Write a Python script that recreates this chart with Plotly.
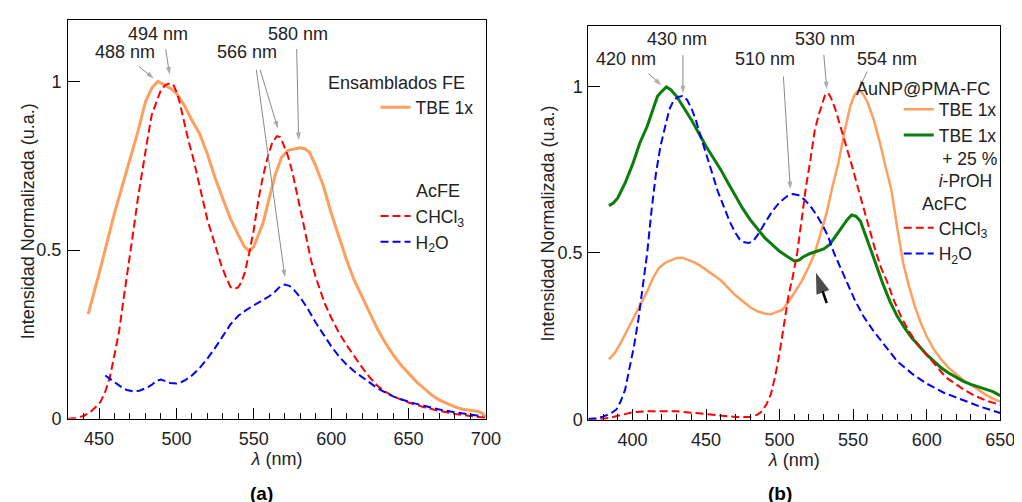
import plotly.graph_objects as go

# ---------------- Panel (a): Ensamblados FE / AcFE ----------------
lam_a_tbe = [443, 446, 450, 455, 460, 465, 470, 475, 480, 484, 488, 492, 496, 500, 505, 510, 515, 520,
             525, 530, 535, 540, 544, 547, 550, 553, 556, 560, 564, 568, 572, 576, 580, 583, 586, 590,
             595, 600, 605, 610, 615, 620, 625, 630, 635, 640, 645, 650, 655, 660, 665, 670, 675, 680,
             685, 690, 695, 698, 700]
int_a_tbe = [0.31, 0.36, 0.43, 0.52, 0.61, 0.69, 0.77, 0.85, 0.94, 0.98, 1.0, 0.99, 0.98, 0.965, 0.93,
             0.885, 0.845, 0.785, 0.714, 0.652, 0.592, 0.545, 0.51, 0.497, 0.51, 0.545, 0.58, 0.655,
             0.725, 0.775, 0.795, 0.8, 0.803, 0.8, 0.79, 0.75, 0.69, 0.61, 0.54, 0.47, 0.41, 0.36, 0.31,
             0.265, 0.225, 0.19, 0.16, 0.135, 0.11, 0.09, 0.07, 0.055, 0.045, 0.035, 0.028, 0.024,
             0.021, 0.015, 0.004]

lam_a_chcl3 = [430, 435, 440, 444, 448, 451, 454, 457, 460, 463, 466, 469, 472, 475, 478, 481, 484, 487,
               490, 493, 496, 498, 500, 502, 505, 508, 511, 514, 517, 520, 523, 526, 529, 532, 535, 538,
               540, 542, 544, 547, 550, 553, 556, 559, 562, 565, 567, 569, 572, 575, 578, 582, 587, 590,
               593, 596, 600, 605, 610, 615, 620, 625, 630, 635, 640, 650, 660, 670, 680, 690, 700]
int_a_chcl3 = [0.0, 0.002, 0.008, 0.018, 0.035, 0.05, 0.08, 0.123, 0.19, 0.26, 0.36, 0.45, 0.55, 0.65,
               0.74, 0.82, 0.9, 0.94, 0.975, 0.99, 0.995, 0.99, 0.97, 0.94, 0.88, 0.82, 0.77, 0.71, 0.65,
               0.59, 0.545, 0.5, 0.455, 0.42, 0.39, 0.385, 0.39, 0.405, 0.43, 0.49, 0.56, 0.65, 0.72,
               0.775, 0.82, 0.838, 0.835, 0.815, 0.78, 0.73, 0.67, 0.58, 0.47, 0.42, 0.38, 0.34, 0.3,
               0.255, 0.218, 0.183, 0.152, 0.122, 0.097, 0.08, 0.066, 0.048, 0.034, 0.023, 0.014,
               0.008, 0.002]

lam_a_h2o = [454, 457, 461, 465, 468, 472, 476, 480, 484, 487, 490, 493, 496, 500, 503, 506, 510, 515,
             520, 525, 530, 535, 540, 545, 550, 555, 560, 564, 567, 570, 573, 576, 580, 585, 590, 595,
             600, 605, 610, 615, 620, 625, 630, 640, 650, 660, 670, 680, 690, 698]
int_a_h2o = [0.128, 0.118, 0.104, 0.092, 0.085, 0.081, 0.083, 0.09, 0.1, 0.112, 0.116, 0.112, 0.106,
             0.104, 0.108, 0.115, 0.128, 0.15, 0.178, 0.21, 0.245, 0.28, 0.305, 0.322, 0.336, 0.35,
             0.363, 0.378, 0.392, 0.398, 0.394, 0.382, 0.36, 0.325, 0.285, 0.25, 0.215, 0.185, 0.16,
             0.14, 0.123, 0.105, 0.09, 0.066, 0.05, 0.038, 0.027, 0.019, 0.012, 0.007]

# ---------------- Panel (b): AuNP@PMA-FC / AcFC ----------------
lam_b_tbe = [384, 388, 392, 396, 400, 405, 410, 414, 418, 422, 426, 430, 434, 438, 442, 446, 450, 455,
             460, 465, 470, 475, 480, 485, 490, 494, 498, 502, 506, 510, 515, 520, 524, 528, 532, 536,
             540, 544, 548, 551, 554, 557, 560, 564, 568, 572, 576, 580, 584, 588, 592, 596, 600, 605,
             610, 615, 620, 625, 630, 635, 640, 645, 650]
int_b_tbe = [0.181, 0.2, 0.23, 0.265, 0.3, 0.34, 0.385, 0.425, 0.455, 0.47, 0.478, 0.485, 0.486, 0.48,
             0.472, 0.462, 0.45, 0.435, 0.418, 0.395, 0.373, 0.355, 0.337, 0.325, 0.318, 0.316, 0.322,
             0.33, 0.353, 0.38, 0.415, 0.46, 0.5, 0.56, 0.62, 0.7, 0.77, 0.86, 0.94, 0.975, 0.99, 0.975,
             0.95, 0.9, 0.835, 0.76, 0.69, 0.575, 0.47, 0.4, 0.34, 0.29, 0.25, 0.21, 0.18, 0.155, 0.135,
             0.118, 0.105, 0.09, 0.075, 0.063, 0.054]

lam_b_iproh = [384, 387, 390, 395, 400, 405, 410, 414, 417, 420, 423, 426, 430, 435, 440, 445, 450, 455,
               460, 465, 470, 475, 480, 485, 490, 495, 500, 505, 510, 513, 516, 520, 525, 530, 534, 538,
               542, 546, 549, 552, 555, 558, 562, 566, 570, 575, 580, 585, 590, 595, 600, 605, 610, 615,
               620, 625, 630, 635, 640, 645, 650]
int_b_iproh = [0.642, 0.65, 0.665, 0.71, 0.765, 0.83, 0.88, 0.935, 0.97, 0.985, 0.998, 0.99, 0.97,
               0.935, 0.9, 0.86, 0.82, 0.785, 0.75, 0.71, 0.67, 0.633, 0.6, 0.572, 0.545, 0.525, 0.505,
               0.49, 0.476, 0.478, 0.488, 0.497, 0.505, 0.512, 0.525, 0.55, 0.575, 0.6, 0.614, 0.61,
               0.595, 0.56, 0.51, 0.46, 0.41, 0.355, 0.31, 0.275, 0.245, 0.22, 0.195, 0.175, 0.155,
               0.14, 0.127, 0.115, 0.106, 0.098, 0.09, 0.084, 0.072]

lam_b_chcl3 = [370, 375, 380, 385, 390, 395, 400, 410, 420, 430, 440, 450, 460, 470, 480, 485, 488, 491,
               494, 497, 500, 503, 506, 509, 512, 515, 518, 521, 524, 527, 529, 531, 533, 535, 538, 541,
               545, 549, 553, 557, 561, 565, 569, 573, 578, 583, 588, 594, 600, 606, 613, 620, 626, 632,
               640, 650]
int_b_chcl3 = [0.0, 0.001, 0.003, 0.006, 0.012, 0.018, 0.022, 0.025, 0.026, 0.025, 0.021, 0.016, 0.011,
               0.008, 0.008, 0.015, 0.025, 0.045, 0.075, 0.13, 0.2, 0.29, 0.37, 0.43, 0.5, 0.6, 0.7,
               0.78, 0.87, 0.92, 0.945, 0.975, 0.98, 0.965, 0.93, 0.885, 0.83, 0.765, 0.7, 0.637, 0.57,
               0.51, 0.455, 0.415, 0.355, 0.305, 0.265, 0.225, 0.195, 0.165, 0.127, 0.106, 0.088,
               0.073, 0.058, 0.044]

lam_b_h2o = [370, 375, 380, 385, 389, 392, 395, 398, 401, 404, 407, 410, 413, 416, 419, 422, 425, 428,
             431, 434, 437, 440, 443, 446, 450, 454, 458, 462, 466, 470, 473, 476, 479, 482, 486, 490,
             495, 500, 505, 509, 513, 517, 521, 525, 529, 533, 537, 541, 546, 551, 557, 564, 572, 580,
             590, 600, 612, 624, 637, 650]
int_b_h2o = [0.002, 0.004, 0.009, 0.018, 0.03, 0.055, 0.09, 0.15, 0.22, 0.3, 0.4, 0.5, 0.63, 0.74, 0.82,
             0.88, 0.93, 0.958, 0.968, 0.971, 0.96, 0.935, 0.9, 0.855, 0.8, 0.74, 0.685, 0.64, 0.595,
             0.56, 0.54, 0.532, 0.53, 0.535, 0.56, 0.59, 0.625, 0.652, 0.67, 0.677, 0.673, 0.66, 0.64,
             0.615, 0.585, 0.55, 0.5, 0.46, 0.41, 0.36, 0.31, 0.265, 0.22, 0.175, 0.138, 0.108, 0.08,
             0.059, 0.038, 0.02]

# peak annotations: labels, and arrows (tip wavelength, tip value, tail offset in px)
peaks_a_text = ["488 nm", "494 nm", "566 nm", "580 nm"]
peaks_a_arrows = [(485.4, 1.009, -15, -12), (495.6, 1.020, -4, -26), (570.1, 0.419, -29, -212),
                  (565.6, 0.860, -18, -60), (579.0, 0.826, -2, -93)]
peaks_b_text = ["420 nm", "430 nm", "510 nm", "530 nm", "554 nm"]
peaks_b_arrows = [(419.6, 1.003, -13, -12), (434.3, 0.979, 0, -39), (507.3, 0.691, -7, -115),
                  (532.1, 0.991, -3, -35), (554.2, 0.994, 8, -17)]
black_arrow_b = (524.7, 0.441, 11, 31)

ORANGE = "#FF9F5E"
RED = "#FF0000"
BLUE = "#0000FF"
GREEN = "#0A7D0A"
GRAY = "#8A8A8A"
TXT = "#222222"
FONT = "Liberation Sans, Arial, Helvetica, sans-serif"
W, H = 1022, 502

# plot-area pixel boxes (left, right, top, bottom) and ranges
BOX_A = (61, 485, 12, 419)
BOX_B = (589, 1007, 18, 420)
XR_A, YR_A = [430, 700], [0, 1.183]
XR_B, YR_B = [370, 650], [0, 1.182]


def px(xp):
    return xp / W


def py(yp):
    return 1 - yp / H


fig = go.Figure()
dash = "8px,4px"
fig.add_trace(go.Scatter(x=lam_a_tbe, y=int_a_tbe, mode="lines", name="TBE 1x",
                         line=dict(color=ORANGE, width=3), xaxis="x", yaxis="y", legend="legend"))
fig.add_trace(go.Scatter(x=lam_a_chcl3, y=int_a_chcl3, mode="lines", name="CHCl<sub>3</sub>",
                         line=dict(color=RED, width=2, dash=dash), xaxis="x", yaxis="y", legend="legend2"))
fig.add_trace(go.Scatter(x=lam_a_h2o, y=int_a_h2o, mode="lines", name="H<sub>2</sub>O",
                         line=dict(color=BLUE, width=2, dash=dash), xaxis="x", yaxis="y", legend="legend2"))

fig.add_trace(go.Scatter(x=lam_b_tbe, y=int_b_tbe, mode="lines", name="TBE 1x",
                         line=dict(color=ORANGE, width=2.5), xaxis="x2", yaxis="y2", legend="legend3"))
fig.add_trace(go.Scatter(x=lam_b_iproh, y=int_b_iproh, mode="lines",
                         name="TBE 1x<br>\u2009+ 25 %<br><i>i</i>-PrOH",
                         line=dict(color=GREEN, width=3), xaxis="x2", yaxis="y2", legend="legend3"))
fig.add_trace(go.Scatter(x=lam_b_chcl3, y=int_b_chcl3, mode="lines", name="CHCl<sub>3</sub>",
                         line=dict(color=RED, width=2, dash=dash), xaxis="x2", yaxis="y2", legend="legend4"))
fig.add_trace(go.Scatter(x=lam_b_h2o, y=int_b_h2o, mode="lines", name="H<sub>2</sub>O",
                         line=dict(color=BLUE, width=2, dash=dash), xaxis="x2", yaxis="y2", legend="legend4"))


def add_arrow(tip, box, xr, yr, xa, ya, color, width, head):
    lx, ly, axp, ayp = tip
    nm_per_px = (xr[1] - xr[0]) / (box[1] - box[0])
    val_per_px = (yr[1] - yr[0]) / (box[3] - box[2])
    tx, ty = lx + axp * nm_per_px, ly - ayp * val_per_px
    fig.add_trace(go.Scatter(x=[tx, lx], y=[ty, ly], mode="lines+markers", showlegend=False,
                             hoverinfo="skip", line=dict(color=color, width=width),
                             marker=dict(symbol="arrow", angleref="previous", size=[0, head],
                                         color=color, line=dict(width=0)),
                             xaxis=xa, yaxis=ya))


for t in peaks_a_arrows:
    add_arrow(t, BOX_A, XR_A, YR_A, "x", "y", GRAY, 1, 8)
for t in peaks_b_arrows:
    add_arrow(t, BOX_B, XR_B, YR_B, "x2", "y2", GRAY, 1, 8)
add_arrow(black_arrow_b, BOX_B, XR_B, YR_B, "x2", "y2", "black", 2.5, 22)

common = dict(showline=True, linecolor="black", linewidth=1.2, mirror=True, ticks="inside",
              tickcolor="black", tickwidth=1, showgrid=False, zeroline=False,
              tickfont=dict(size=18, color=TXT))
xminor = dict(ticks="inside", tickmode="linear", tick0=0, dtick=10, ticklen=6, tickcolor="black",
              tickwidth=1, showgrid=False)

fig.update_layout(
    width=W, height=H, margin=dict(l=0, r=0, t=0, b=0),
    paper_bgcolor="white", plot_bgcolor="white",
    font=dict(family=FONT, size=18, color=TXT),
    xaxis=dict(domain=[px(BOX_A[0]), px(BOX_A[1])], range=XR_A, tickmode="linear", tick0=0, dtick=50,
               ticklen=11, minor=xminor, anchor="y", ticklabelstandoff=4,
               title=dict(text="<i>λ</i> (nm)", font=dict(size=18, color=TXT), standoff=4), **common),
    yaxis=dict(domain=[py(BOX_A[3]), py(BOX_A[2])], range=YR_A, tickmode="array", tickvals=[0, 0.5, 1],
               ticktext=["0", "0.5", "1"], ticklen=12, anchor="x", ticklabelstandoff=2, **common),
    xaxis2=dict(domain=[px(BOX_B[0]), px(BOX_B[1])], range=XR_B, tickmode="linear", tick0=0, dtick=50,
                ticklen=11, minor=xminor, anchor="y2", ticklabelstandoff=4,
                title=dict(text="<i>λ</i> (nm)", font=dict(size=18, color=TXT), standoff=4), **common),
    yaxis2=dict(domain=[py(BOX_B[3]), py(BOX_B[2])], range=YR_B, tickmode="array", tickvals=[0, 0.5, 1],
                ticktext=["0", "0.5", "1"], ticklen=12, anchor="x2", ticklabelstandoff=1, **common),
    showlegend=True,
)

leg_common = dict(xanchor="left", yanchor="top", bgcolor="rgba(0,0,0,0)", borderwidth=0,
                  font=dict(size=17.5, color=TXT), itemwidth=30, tracegroupgap=0,
                  traceorder="normal", valign="top")
fig.update_layout(
    legend=dict(x=px(373), y=py(83), **leg_common),
    legend2=dict(x=px(373), y=py(194), **leg_common),
    legend3=dict(x=px(904), y=py(85), **leg_common),
    legend4=dict(x=px(904), y=py(206), **leg_common),
)

ann = []
# y-axis titles
ann.append(dict(text="Intensidad Normalizada (u.a.)", x=px(20), y=py(218), textangle=-90,
                xanchor="center", yanchor="middle"))
ann.append(dict(text="Intensidad Normalizada (u.a.)", x=px(548), y=py(220), textangle=-90,
                xanchor="center", yanchor="middle"))
# legend group titles
ann.append(dict(text="Ensamblados FE", x=px(466), y=py(77), xanchor="right", yanchor="middle"))
ann.append(dict(text="AcFE", x=px(436), y=py(187), xanchor="center", yanchor="middle"))
ann.append(dict(text="AuNP@PMA-FC", x=px(999), y=py(83), xanchor="right", yanchor="middle"))
ann.append(dict(text="AcFC", x=px(950), y=py(200), xanchor="center", yanchor="middle"))
# peak labels
for t, (cx, cy) in zip(peaks_a_text, [(118.5, 45), (152.5, 27), (242.5, 45), (294.5, 27)]):
    ann.append(dict(text=t, x=px(cx), y=py(cy), xanchor="center", yanchor="middle"))
for t, (cx, cy) in zip(peaks_b_text, [(627.5, 52), (679, 32), (768, 52), (829, 32), (892.5, 52)]):
    ann.append(dict(text=t, x=px(cx), y=py(cy), xanchor="center", yanchor="middle"))
# panel labels
ann.append(dict(text="<b>(a)</b>", x=px(257), y=py(495), xanchor="center", yanchor="middle",
                font=dict(size=19, color="black")))
ann.append(dict(text="<b>(b)</b>", x=px(783), y=py(495), xanchor="center", yanchor="middle",
                font=dict(size=19, color="black")))
for a in ann:
    a.update(xref="paper", yref="paper", showarrow=False)
    a.setdefault("font", dict(size=18, color=TXT))

fig.update_layout(annotations=ann)
fig.write_html("out.html")
